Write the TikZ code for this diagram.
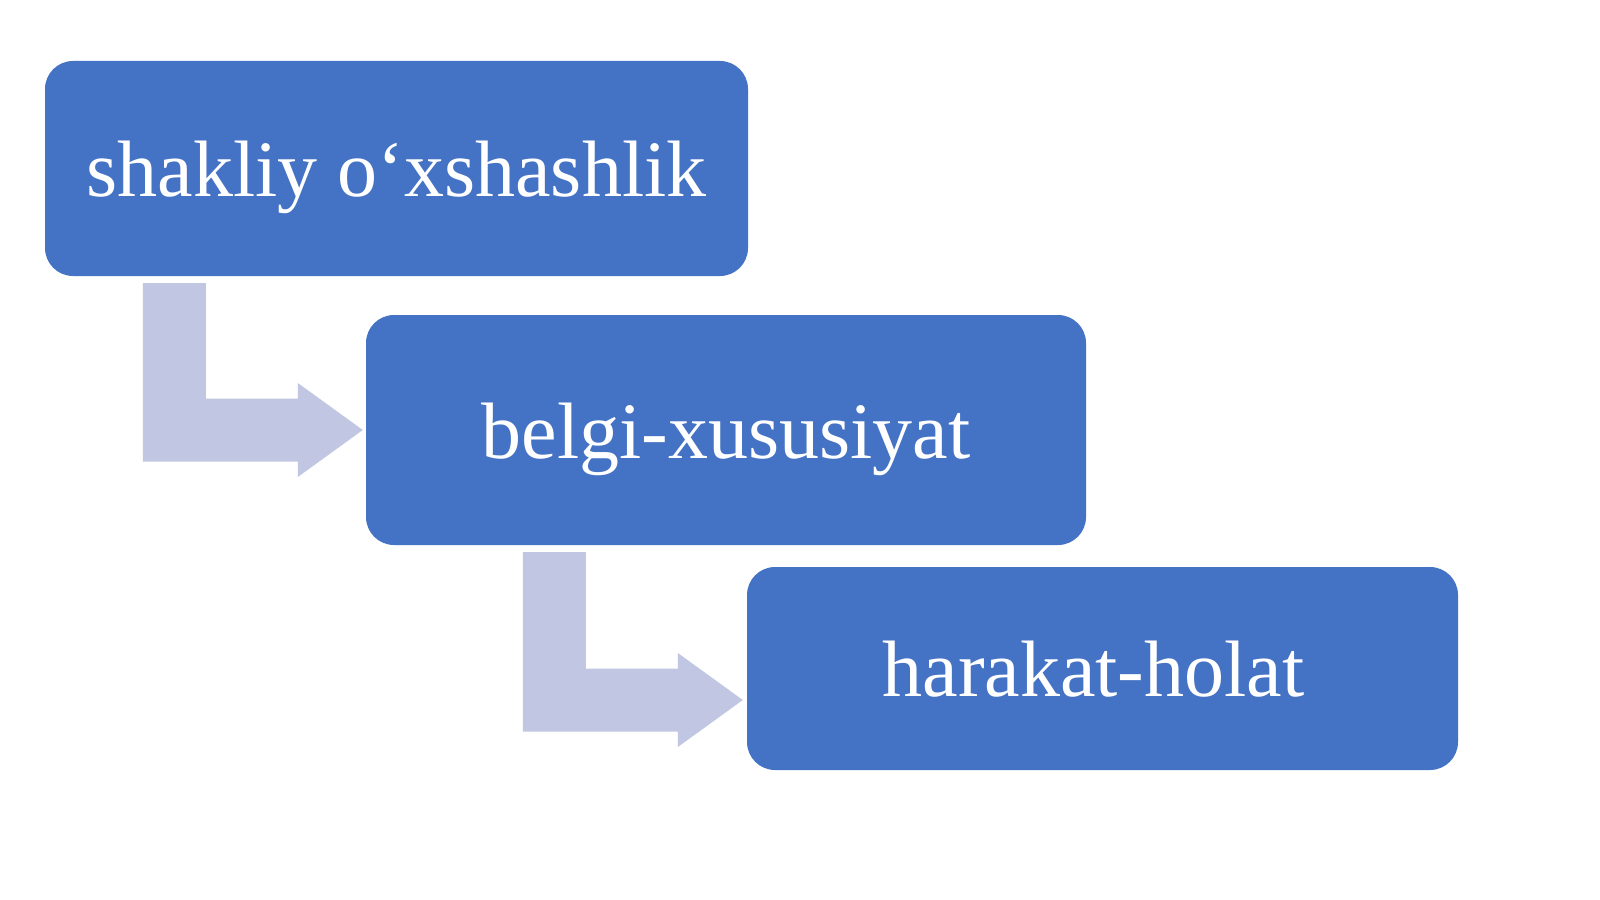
\documentclass[tikz,border=0pt]{standalone}
\usepackage{fontspec}
\setmainfont{Liberation Serif}
\usetikzlibrary{calc}
\definecolor{boxblue}{RGB}{68,114,196}
\definecolor{arrowlav}{RGB}{193,199,226}
\tikzset{
  stagebox/.style={fill=boxblue, draw=none, rounded corners=28pt, inner sep=0pt,
    text=white, font=\fontsize{80}{96}\selectfont, text height=56pt, text depth=0pt, align=center},
  bentarrow/.style={fill=arrowlav, draw=none}
}
\begin{document}
\begin{tikzpicture}[x=1pt,y=-1pt]
\useasboundingbox[fill=white] (0,0) rectangle (1600,899);
\node[stagebox, minimum width=703pt, minimum height=215pt] (b1) at (396.5,168.5) {shakliy o‘xshashlik};
\node[stagebox, minimum width=720pt, minimum height=230pt] (b2) at (726,430) {belgi-xususiyat};
\node[stagebox, minimum width=711pt, minimum height=203pt] (b3) at (1102.5,668.5) {\hspace*{-18pt}harakat-holat};
% bent arrow 1
\coordinate (t1) at ($(b2.west)+(-3,0)$);
\coordinate (s1) at ($(b1.south west)+(98,7)$);
\fill[bentarrow] (s1) -- ++(63,0) -- ($(s1 |- t1)+(63,-31.5)$) -- ($(t1)+(-65,-31.5)$)
  -- ($(t1)+(-65,-47)$) -- (t1) -- ($(t1)+(-65,47)$) -- ($(t1)+(-65,31.5)$)
  -- ($(s1 |- t1)+(0,31.5)$) -- cycle;
% bent arrow 2
\coordinate (t2) at ($(b3.west)+(-4,31.5)$);
\coordinate (s2) at ($(b2.south west)+(157,7)$);
\fill[bentarrow] (s2) -- ++(63,0) -- ($(s2 |- t2)+(63,-31.5)$) -- ($(t2)+(-65,-31.5)$)
  -- ($(t2)+(-65,-47)$) -- (t2) -- ($(t2)+(-65,47)$) -- ($(t2)+(-65,31.5)$)
  -- ($(s2 |- t2)+(0,31.5)$) -- cycle;
\end{tikzpicture}
\end{document}
